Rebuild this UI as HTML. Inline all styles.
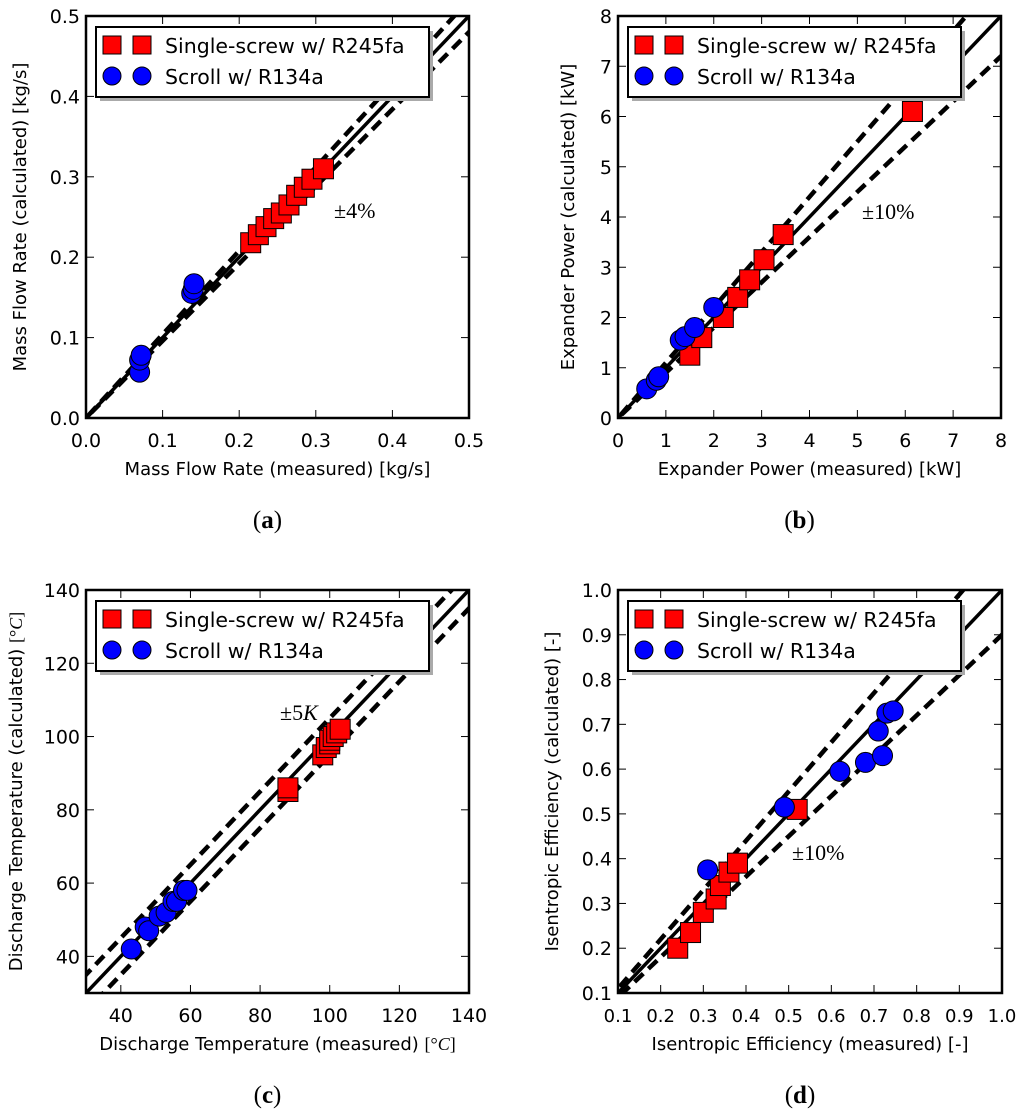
<!DOCTYPE html>
<html><head><meta charset="utf-8">
<style>
html,body{margin:0;padding:0;background:#fff;width:1024px;height:1114px;overflow:hidden;}
svg{display:block;}
text{font-family:"DejaVu Sans","Liberation Sans",sans-serif;}
.serif{font-family:"Liberation Serif","DejaVu Serif",serif;}
</style></head>
<body>
<svg id="fig" width="1024" height="1114" viewBox="0 0 1024 1114" xmlns="http://www.w3.org/2000/svg"></svg>
<script>
// Panel (a) data
const aSquaresX=[0.215,0.225,0.235,0.245,0.255,0.265,0.275,0.285,0.295,0.31];
const aSquaresY=[0.218,0.228,0.238,0.248,0.255,0.265,0.277,0.287,0.297,0.31];
const aCirclesX=[0.07,0.07,0.072,0.138,0.14,0.141];
const aCirclesY=[0.057,0.072,0.078,0.155,0.16,0.167];
const aTicks=["0.0","0.1","0.2","0.3","0.4","0.5"];
// Panel (b) data
const bSquaresX=[1.5,1.75,2.2,2.5,2.75,3.05,3.45,6.15];
const bSquaresY=[1.25,1.6,2.0,2.4,2.75,3.15,3.65,6.1];
const bCirclesX=[0.6,0.8,0.85,1.3,1.4,1.6,2.0];
const bCirclesY=[0.58,0.75,0.82,1.55,1.62,1.8,2.2];
const bTicks=["0","1","2","3","4","5","6","7","8"];
// Panel (c) data
const cSquaresX=[88,88,98,99,100,100,101,102,103];
const cSquaresY=[85,86,95,97,98,99,100,101,102];
const cCirclesX=[43,47,48,51,53,55,56,58,59];
const cCirclesY=[42,48,47,51,52,55,55,58,58];
const cTicks=["40","60","80","100","120","140"];
// Panel (d) data
const dSquaresX=[0.24,0.27,0.30,0.33,0.34,0.36,0.38,0.52];
const dSquaresY=[0.20,0.235,0.28,0.31,0.34,0.37,0.39,0.51];
const dCirclesX=[0.31,0.49,0.62,0.68,0.71,0.72,0.73,0.745];
const dCirclesY=[0.375,0.515,0.595,0.615,0.685,0.63,0.725,0.73];
const dTicks=["0.1","0.2","0.3","0.4","0.5","0.6","0.7","0.8","0.9","1.0"];

const NS="http://www.w3.org/2000/svg";
const fig=document.getElementById('fig');
function el(tag,attrs,parent){const e=document.createElementNS(NS,tag);for(const k in attrs)e.setAttribute(k,attrs[k]);(parent||fig).appendChild(e);return e;}

function panel(o){
  const g=el('g',{});
  
  
  const L=o.L,R=o.R,T=o.T,B=o.B;
  const sx=v=>L+(v-o.min)/(o.max-o.min)*(R-L);
  const sy=v=>B-(v-o.min)/(o.max-o.min)*(B-T);
  const cid='clip-'+o.id;
  const cp=el('clipPath',{id:cid},g);el('rect',{x:L,y:T,width:R-L,height:B-T},cp);
  const pg=el('g',{'clip-path':'url(#'+cid+')'},g);
  const lo=o.min-1*(o.max-o.min), hi=o.max+1*(o.max-o.min);
  const ident=el('line',{x1:sx(lo),y1:sy(lo),x2:sx(hi),y2:sy(hi),stroke:'#000','stroke-width':3.5},pg);
  
  [1,-1].forEach(s=>{
    const f=v=>o.abs? v+s*o.tol : v*(1+s*o.tol);
    const d=el('line',{x1:sx(lo),y1:sy(f(lo)),x2:sx(hi),y2:sy(f(hi)),stroke:'#000','stroke-width':4.5,'stroke-dasharray':'12 7'},pg);
    
    
  });
  o.sqx.forEach((x,i)=>{const r=el('rect',{x:sx(x)-10,y:sy(o.sqy[i])-10,width:20,height:20,fill:'#f00',stroke:'#000','stroke-width':1},pg);
    });
  o.cx.forEach((x,i)=>{const c=el('circle',{cx:sx(x),cy:sy(o.cy[i]),r:10,fill:'#00f',stroke:'#000','stroke-width':1},pg);
    });
  el('rect',{x:L,y:T,width:R-L,height:B-T,fill:'none',stroke:'#000','stroke-width':2.5},g);
  o.ticks.forEach(t=>{const v=parseFloat(t);const X=sx(v),Y=sy(v);
    el('line',{x1:X,y1:B,x2:X,y2:B-8,stroke:'#000','stroke-width':1},g);
    el('line',{x1:X,y1:T,x2:X,y2:T+8,stroke:'#000','stroke-width':1},g);
    el('line',{x1:L,y1:Y,x2:L+8,y2:Y,stroke:'#000','stroke-width':1},g);
    el('line',{x1:R,y1:Y,x2:R-8,y2:Y,stroke:'#000','stroke-width':1},g);
    const xt=el('text',{x:X,y:B+29,'font-size':o.tfs||19,'text-anchor':'middle'},g);xt.textContent=t;
    
    const yt=el('text',{x:L-6,y:Y+7,'font-size':19,'text-anchor':'end'},g);yt.textContent=t;
    
  });
  const xl=el('text',{x:(L+R)/2,y:B+57,'font-size':18,'text-anchor':'middle'},g);xl.innerHTML=o.xlabel;
  
  const ylx=L-o.ylOff, yly=(T+B)/2;
  const yl=el('text',{x:ylx,y:yly,'font-size':18,'text-anchor':'middle',transform:'rotate(-90 '+ylx+' '+yly+')'},g);yl.innerHTML=o.ylabel;
  
  const an=el('text',{x:o.annX,y:o.annY,'font-size':22,class:'serif'},g);an.innerHTML=o.ann;
  
  const lg=el('g',{},g);
  const lx=L+10,ly=T+11;
  el('rect',{x:lx+4,y:ly+4,width:333,height:70,fill:'#aaa'},lg);
  el('rect',{x:lx,y:ly,width:333,height:70,fill:'#fff',stroke:'#000','stroke-width':2},lg);
  [lx+16,lx+46].forEach(cx=>{el('rect',{x:cx-9,y:ly+9,width:18,height:18,fill:'#f00',stroke:'#000','stroke-width':1},lg);
    el('circle',{cx:cx,cy:ly+49,r:9,fill:'#00f',stroke:'#000','stroke-width':1},lg);});
  const t1=el('text',{x:lx+69,y:ly+26,'font-size':20.5},lg);t1.textContent='Single-screw w/ R245fa';
  
  const t2=el('text',{x:lx+69,y:ly+57,'font-size':20.5},lg);t2.textContent='Scroll w/ R134a';
  
  const cap=el('text',{x:(L+R)/2-10,y:B+110,'font-size':25,'text-anchor':'middle',class:'serif'},g);
  cap.innerHTML='(<tspan font-weight="bold">'+o.id+'</tspan>)';
  
}

panel({id:'a',L:86,R:469,T:16,B:418,min:0,max:0.5,tol:0.04,abs:false,sqx:aSquaresX,sqy:aSquaresY,cx:aCirclesX,cy:aCirclesY,ticks:aTicks,
  xlabel:'Mass Flow Rate (measured) [kg/s]',ylabel:'Mass Flow Rate (calculated) [kg/s]',ylOff:60,ann:'±4%',annX:334,annY:218});
panel({id:'b',L:618,R:1001,T:16,B:418,min:0,max:8,tol:0.10,abs:false,sqx:bSquaresX,sqy:bSquaresY,cx:bCirclesX,cy:bCirclesY,ticks:bTicks,
  xlabel:'Expander Power (measured) [kW]',ylabel:'Expander Power (calculated) [kW]',ylOff:44,ann:'±10%',annX:862,annY:219});
panel({id:'c',L:86,R:469,T:590,B:993,min:30,max:140,tol:5,abs:true,sqx:cSquaresX,sqy:cSquaresY,cx:cCirclesX,cy:cCirclesY,ticks:cTicks,
  xlabel:'Discharge Temperature (measured) <tspan class="serif">[°<tspan font-style="italic">C</tspan>]</tspan>',ylabel:'Discharge Temperature (calculated) <tspan class="serif">[°<tspan font-style="italic">C</tspan>]</tspan>',ylOff:64,ann:'±5<tspan font-style="italic">K</tspan>',annX:280,annY:720});
panel({id:'d',L:618,R:1002,T:590,B:993,min:0.1,max:1.0,tol:0.10,abs:false,sqx:dSquaresX,sqy:dSquaresY,cx:dCirclesX,cy:dCirclesY,ticks:dTicks,tfs:18,
  xlabel:'Isentropic Efficiency (measured) [-]',ylabel:'Isentropic Efficiency (calculated) [-]',ylOff:60,ann:'±10%',annX:792,annY:860});
</script>
</body></html>
